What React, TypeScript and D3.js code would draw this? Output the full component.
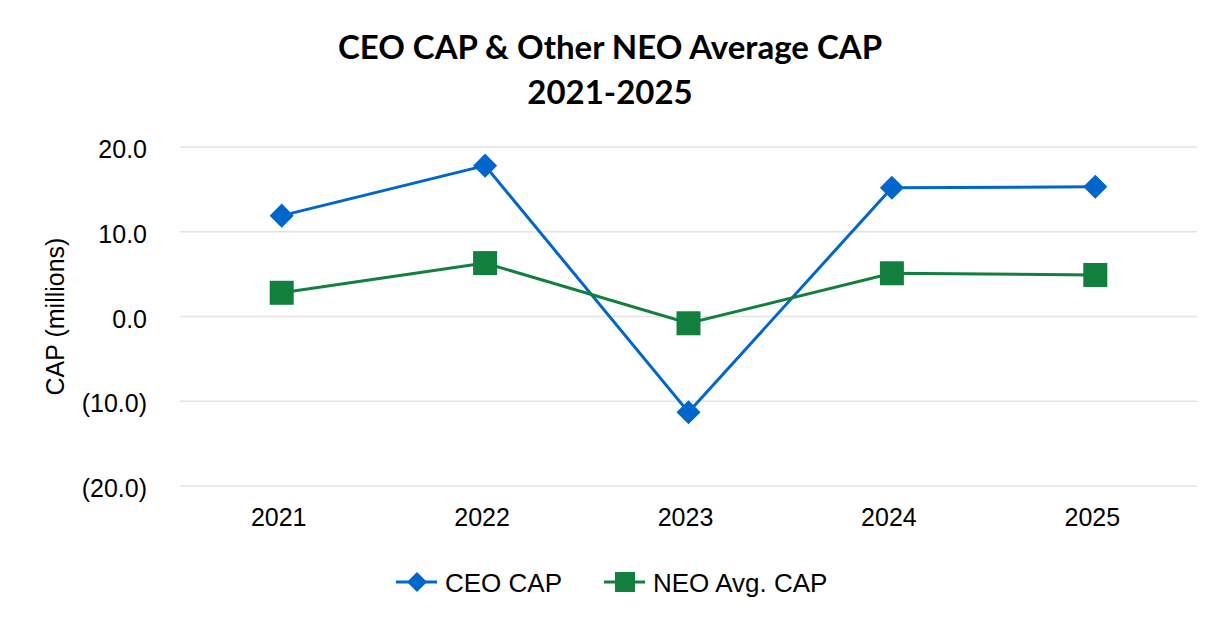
import React, { useEffect, useRef } from "react";
import * as d3 from "d3";

const years = ["2021", "2022", "2023", "2024", "2025"];
const ceoCap = [11.9, 17.8, -11.3, 15.2, 15.3];
const neoAvgCap = [2.8, 6.3, -0.8, 5.1, 4.9];
const yTicks = [20, 10, 0, -10, -20];

const W = 1226;
const H = 640;
const BLUE = "#0066CC";
const GREEN = "#127F3F";

const fmt = (v: number) => (v < 0 ? `(${Math.abs(v).toFixed(1)})` : v.toFixed(1));

const App = () => {
  const ref = useRef<SVGSVGElement | null>(null);

  useEffect(() => {
    const svg = d3.select(ref.current);
    svg.selectAll("*").remove();

    const left = 180;
    const right = 1197;
    const x = d3.scaleBand<string>().domain(years).range([left, right]);
    const y = d3.scaleLinear().domain([-20, 20]).range([486, 147]);
    const cx = (d: string) => (x(d) as number) + x.bandwidth() / 2;

    // Title
    const title = svg
      .append("text")
      .attr("text-anchor", "middle")
      .attr("font-family", "Lato, 'Open Sans', sans-serif")
      .attr("font-weight", "bold")
      .attr("font-size", 33)
      .attr("fill", "#000");
    title.append("tspan").attr("x", 610).attr("y", 59).text("CEO CAP & Other NEO Average CAP");
    title.append("tspan").attr("x", 610).attr("y", 104).text("2021-2025");

    // Gridlines
    svg
      .append("g")
      .selectAll("line")
      .data(yTicks)
      .join("line")
      .attr("x1", left)
      .attr("x2", right)
      .attr("y1", (d) => y(d))
      .attr("y2", (d) => y(d))
      .attr("stroke", "#e3e3e3")
      .attr("stroke-width", 1.5);

    const font = "'Liberation Sans', Arial, sans-serif";
    const fs = 25;

    // Y tick labels
    svg
      .append("g")
      .selectAll("text")
      .data(yTicks)
      .join("text")
      .attr("x", 147)
      .attr("y", (d) => y(d) + 11)
      .attr("text-anchor", "end")
      .attr("font-family", font)
      .attr("font-size", fs)
      .text((d) => fmt(d));

    // X tick labels
    svg
      .append("g")
      .selectAll("text")
      .data(years)
      .join("text")
      .attr("x", (d) => cx(d) - 3)
      .attr("y", 526)
      .attr("text-anchor", "middle")
      .attr("font-family", font)
      .attr("font-size", fs)
      .text((d) => d);

    // Y axis title
    svg
      .append("text")
      .attr("transform", `translate(64,${y(0)}) rotate(-90)`)
      .attr("text-anchor", "middle")
      .attr("font-family", font)
      .attr("font-size", fs)
      .text("CAP (millions)");

    const line = d3
      .line<number>()
      .x((_, i) => cx(years[i]))
      .y((d) => y(d));

    const diamond = d3.symbol().type(d3.symbolSquare).size(290);
    const square = d3.symbol().type(d3.symbolSquare).size(576);
    const legDiamond = d3.symbol().type(d3.symbolSquare).size(200);
    const legSquare = d3.symbol().type(d3.symbolSquare).size(400);

    // CEO series
    svg
      .append("path")
      .datum(ceoCap)
      .attr("fill", "none")
      .attr("stroke", BLUE)
      .attr("stroke-width", 3)
      .attr("d", line);
    svg
      .append("g")
      .selectAll("path")
      .data(ceoCap)
      .join("path")
      .attr("d", diamond)
      .attr("transform", (d, i) => `translate(${cx(years[i])},${y(d)}) rotate(45)`)
      .attr("fill", BLUE);

    // NEO series
    svg
      .append("path")
      .datum(neoAvgCap)
      .attr("fill", "none")
      .attr("stroke", GREEN)
      .attr("stroke-width", 3)
      .attr("d", line);
    svg
      .append("g")
      .selectAll("path")
      .data(neoAvgCap)
      .join("path")
      .attr("d", square)
      .attr("transform", (d, i) => `translate(${cx(years[i])},${y(d)})`)
      .attr("fill", GREEN);

    // Legend
    const legY = 582;
    const legFs = 26;
    const leg = svg.append("g");
    leg
      .append("line")
      .attr("x1", 396)
      .attr("x2", 437)
      .attr("y1", legY)
      .attr("y2", legY)
      .attr("stroke", BLUE)
      .attr("stroke-width", 3);
    leg
      .append("path")
      .attr("d", legDiamond)
      .attr("transform", `translate(417,${legY}) rotate(45)`)
      .attr("fill", BLUE);
    leg
      .append("text")
      .attr("x", 445)
      .attr("y", legY + 10)
      .attr("font-family", font)
      .attr("font-size", legFs)
      .text("CEO CAP");
    leg
      .append("line")
      .attr("x1", 604)
      .attr("x2", 645)
      .attr("y1", legY)
      .attr("y2", legY)
      .attr("stroke", GREEN)
      .attr("stroke-width", 3);
    leg
      .append("path")
      .attr("d", legSquare)
      .attr("transform", `translate(625,${legY})`)
      .attr("fill", GREEN);
    leg
      .append("text")
      .attr("x", 653)
      .attr("y", legY + 10)
      .attr("font-family", font)
      .attr("font-size", legFs)
      .text("NEO Avg. CAP");
  }, []);

  return (
    <svg
      ref={ref}
      width={W}
      height={H}
      style={{ position: "absolute", left: 0, top: 0, background: "#fff" }}
    ></svg>
  );
};

export default App;
